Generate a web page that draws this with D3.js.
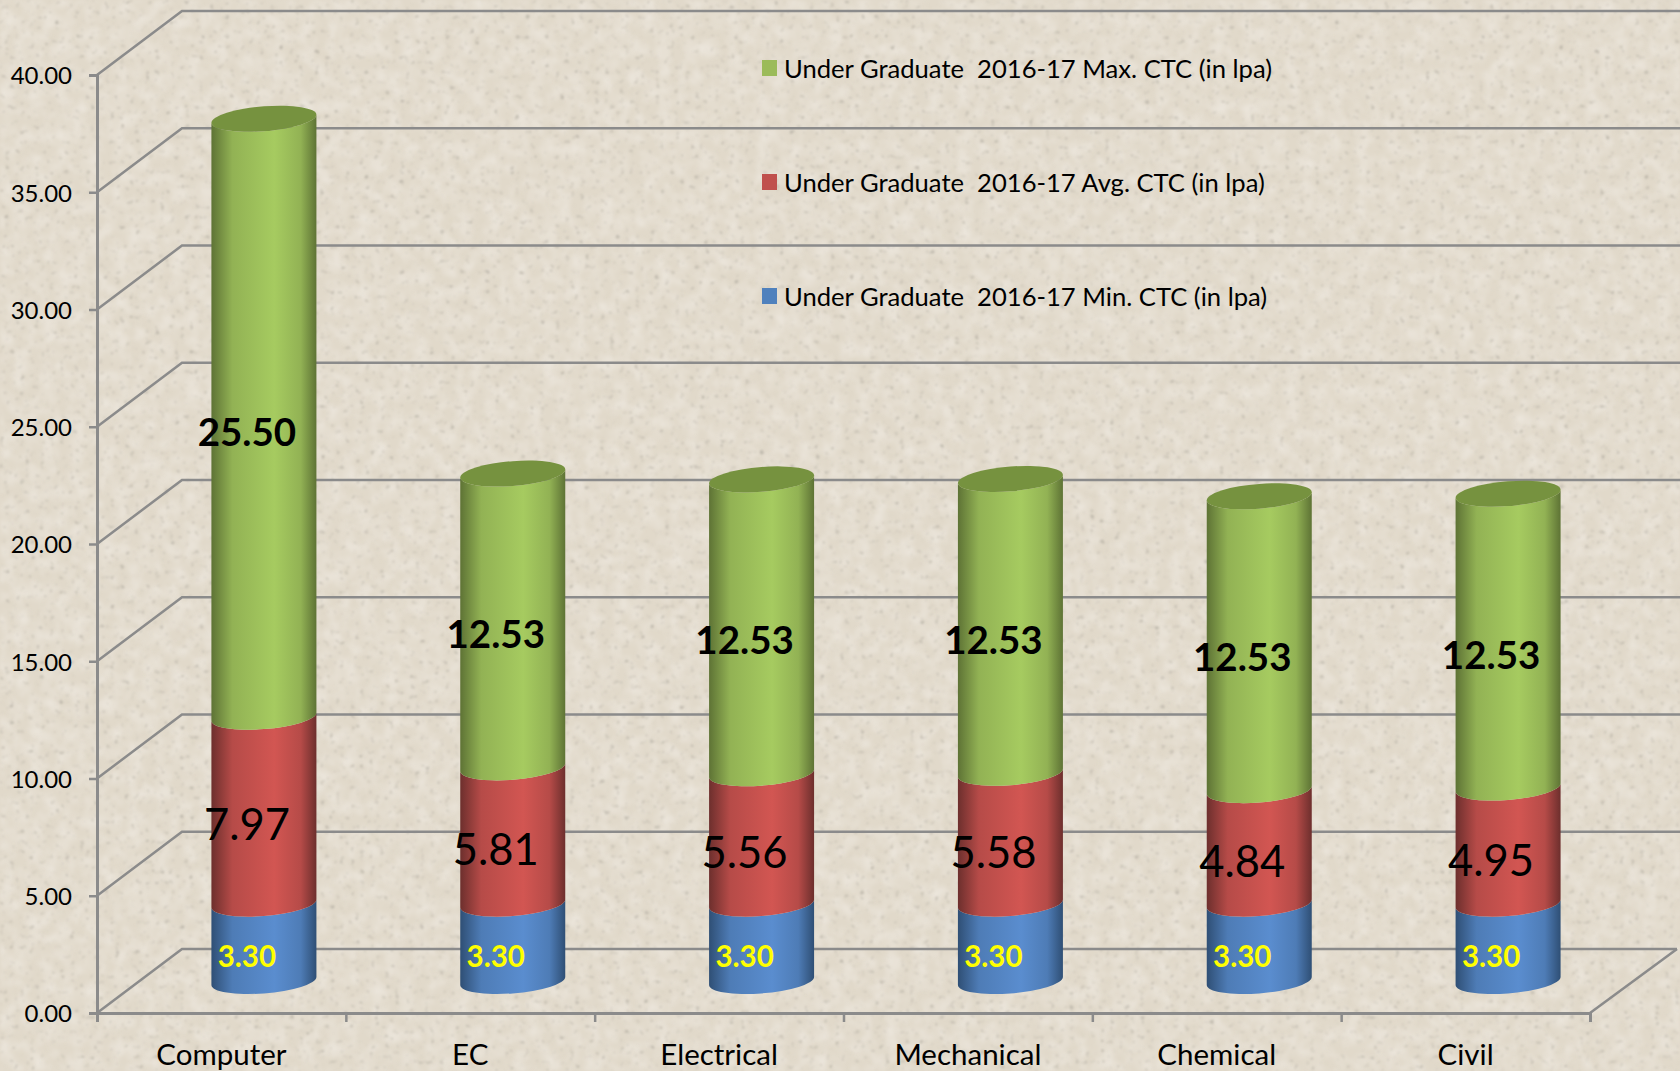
<!DOCTYPE html>
<html>
<head>
<meta charset="utf-8">
<script src="https://cdn.jsdelivr.net/npm/d3@7"></script>
<style>
  html, body { margin: 0; padding: 0; background: #e3dacb; overflow: hidden; }
  svg { display: block; }
  text { font-family: Lato, "Open Sans", sans-serif; fill: #000; }
</style>
</head>
<body>
<div id="chart"></div>
<script>
const categories = ['Computer', 'EC', 'Electrical', 'Mechanical', 'Chemical', 'Civil'];
const minCtc = [3.30, 3.30, 3.30, 3.30, 3.30, 3.30];
const avgCtc = [7.97, 5.81, 5.56, 5.58, 4.84, 4.95];
const maxCtc = [25.50, 12.53, 12.53, 12.53, 12.53, 12.53];
const yTicks = [0, 5, 10, 15, 20, 25, 30, 35, 40];
const legendLabels = [
    'Under Graduate  2016-17 Max. CTC (in lpa)',
    'Under Graduate  2016-17 Avg. CTC (in lpa)',
    'Under Graduate  2016-17 Min. CTC (in lpa)'
];

let width = 1680,
    height = 1071,
    axisLeft = 97,
    axisRight = 1590,
    axisBottom = 1013,
    axisTop = 75,
    depthX = 85,
    depthY = 64,
    cylRadius = 52.5,
    cylRy = 12.4,
    cylTilt = 4 / 52.5,
    gridColor = '#8b8b8b';

const series = [
    { key: 'min', values: minCtc, edge: '#2f4f75', mid: '#5a8dcf', labelColor: '#ffff00', weight: 700, size: 29.5 },
    { key: 'avg', values: avgCtc, edge: '#6d2f2d', mid: '#d25652', labelColor: '#000', weight: 400, size: 43.5 },
    { key: 'max', values: maxCtc, edge: '#5e7335', mid: '#a6cb60', labelColor: '#000', weight: 700, size: 38.5 }
];

const stack = d3.stack().keys(d3.range(series.length)).value((d, k) => series[k].values[d]);
const stacked = stack(d3.range(categories.length));

const y = d3.scaleLinear().domain([0, 40]).range([axisBottom, axisTop]);
const x = d3.scaleBand().domain(categories).range([axisLeft, axisRight]);
const xEdges = d3.scaleLinear().domain([0, categories.length]).range([axisLeft, axisRight]);

const svg = d3.select('#chart').append('svg')
    .attr('width', width)
    .attr('height', height);

const defs = svg.append('defs');

// paper grain, from filters so nothing random ends up in the data
function grainFilter(id, freq, octaves, seed, matrix, blur) {
    const f = defs.append('filter').attr('id', id)
        .attr('x', 0).attr('y', 0).attr('width', 1).attr('height', 1);
    f.append('feTurbulence')
        .attr('type', 'fractalNoise').attr('baseFrequency', freq).attr('numOctaves', octaves).attr('seed', seed)
        .attr('result', 'noise');
    f.append('feColorMatrix').attr('in', 'noise').attr('type', 'matrix').attr('values', matrix).attr('result', 'tint');
    f.append('feGaussianBlur').attr('in', 'tint').attr('stdDeviation', blur);
}
grainFilter('mottle', 0.07, 4, 3, '0 0 0 0 0.93  0 0 0 0 0.90  0 0 0 0 0.86  0.9 0 0 0 -0.32', 1.5);
grainFilter('speck', 0.2, 3, 11, '0 0 0 0 0.45  0 0 0 0 0.42  0 0 0 0 0.36  3.5 0 0 0 -2.25', 0.8);

series.forEach(function (s) {
    const g = defs.append('linearGradient').attr('id', 'grad-' + s.key);
    g.append('stop').attr('offset', 0).attr('stop-color', s.edge);
    g.append('stop').attr('offset', 0.2).attr('stop-color', d3.interpolateRgb(s.edge, s.mid)(0.72));
    g.append('stop').attr('offset', 0.6).attr('stop-color', s.mid);
    g.append('stop').attr('offset', 0.85).attr('stop-color', d3.interpolateRgb(s.edge, s.mid)(0.72));
    g.append('stop').attr('offset', 1).attr('stop-color', s.edge);
});

svg.append('rect').attr('width', width).attr('height', height).attr('fill', '#e1d9ca');
svg.append('rect').attr('width', width).attr('height', height).attr('filter', 'url(#mottle)');
svg.append('rect').attr('width', width).attr('height', height).attr('filter', 'url(#speck)');

// walls and floor
const grid = svg.append('g').attr('fill', 'none').attr('stroke', gridColor).attr('stroke-width', 2.5);
grid.selectAll('.grid-line')
    .data(yTicks).enter()
    .append('path')
    .attr('class', 'grid-line')
    .attr('d', function (d) {
        const end = d === 0 ? axisRight + depthX + 2 : width;
        return 'M' + axisLeft + ',' + y(d) + 'L' + (axisLeft + depthX) + ',' + (y(d) - depthY) + 'L' + end + ',' + (y(d) - depthY);
    });
grid.append('line')
    .attr('x1', axisRight).attr('y1', axisBottom)
    .attr('x2', axisRight + depthX + 2).attr('y2', axisBottom - depthY);

// axes
const yAxis = svg.append('g')
    .attr('transform', 'translate(' + axisLeft + ',0)')
    .call(d3.axisLeft(y).tickValues(yTicks).tickFormat(d3.format('.2f')).tickSize(8).tickPadding(17));
yAxis.selectAll('text').attr('font-size', 24).attr('dy', '0.37em').style('font-family', null);

const xTickAxis = svg.append('g')
    .attr('transform', 'translate(0,' + axisBottom + ')')
    .call(d3.axisBottom(xEdges).tickValues(d3.range(categories.length + 1)).tickSize(9).tickFormat(''));

const xAxis = svg.append('g')
    .attr('transform', 'translate(0,' + axisBottom + ')')
    .call(d3.axisBottom(x).tickSize(0).tickPadding(31));
xAxis.select('.domain').remove();
xAxis.selectAll('text').attr('font-size', 29.5).style('font-family', null);

[yAxis, xTickAxis].forEach(function (a) {
    a.select('.domain').attr('stroke', gridColor).attr('stroke-width', 3);
    a.selectAll('.tick line').attr('stroke', gridColor).attr('stroke-width', 2.5);
});

// cylinders, all in a local frame: x from centre, y from the base centre, then skewed
function yLocal(v) { return y(v) - y(0); }

function sidePath(d) {
    const t = yLocal(d[1]), b = yLocal(d[0]), a = cylRadius, r = cylRy;
    return 'M' + (-a) + ',' + t +
        'A' + a + ',' + r + ' 0 0 0 ' + a + ',' + t +
        'L' + a + ',' + b +
        'A' + a + ',' + r + ' 0 0 1 ' + (-a) + ',' + b + 'Z';
}

const bars = svg.selectAll('.cylinder')
    .data(categories).enter()
    .append('g')
    .attr('class', 'cylinder')
    .attr('transform', function (d) {
        const cx = x(d) + x.bandwidth() / 2 + depthX / 2;
        const cy = axisBottom - depthY / 2;
        return 'translate(' + cx + ',' + cy + ') matrix(1,' + (-cylTilt) + ',0,1,0,0)';
    });

bars.each(function (c, i) {
    const bar = d3.select(this);
    series.forEach(function (s, k) {
        bar.append('path')
            .attr('d', sidePath(stacked[k][i]))
            .attr('fill', 'url(#grad-' + s.key + ')');
    });
    bar.append('ellipse')
        .attr('cx', 0)
        .attr('cy', yLocal(stacked[series.length - 1][i][1]))
        .attr('rx', cylRadius)
        .attr('ry', cylRy)
        .attr('fill', '#76923f');
});

// value labels sit on the front plane of the chart, not on the cylinder centre
series.forEach(function (s, k) {
    svg.selectAll('.label-' + s.key)
        .data(categories).enter()
        .append('text')
        .attr('class', 'label-' + s.key)
        .attr('text-anchor', 'middle')
        .attr('dominant-baseline', 'central')
        .attr('font-size', s.size)
        .attr('font-weight', s.weight)
        .style('fill', s.labelColor)
        .attr('x', d => x(d) + x.bandwidth() / 2 + depthX / 2 - 17)
        .attr('y', function (d, i) {
            const seg = stacked[k][i];
            return axisBottom - depthY / 2 + yLocal((seg[0] + seg[1]) / 2) + 13;
        })
        .text((d, i) => s.values[i].toFixed(2));
});

// legend
const legendColors = ['#9bbb59', '#c0504d', '#4f81bd'];
const legendY = d3.scalePoint().domain(legendLabels).range([68, 296]);
const legend = svg.selectAll('.legend-item')
    .data(legendLabels).enter()
    .append('g')
    .attr('class', 'legend-item')
    .attr('transform', d => 'translate(761,' + legendY(d) + ')');
legend.append('rect')
    .attr('x', 1)
    .attr('y', -8)
    .attr('width', 15)
    .attr('height', 16)
    .attr('fill', (d, i) => legendColors[i]);
legend.append('text')
    .attr('x', 23)
    .attr('dominant-baseline', 'central')
    .attr('font-size', 25.6)
    .style('white-space', 'pre')
    .text(d => d);
</script>
</body>
</html>
